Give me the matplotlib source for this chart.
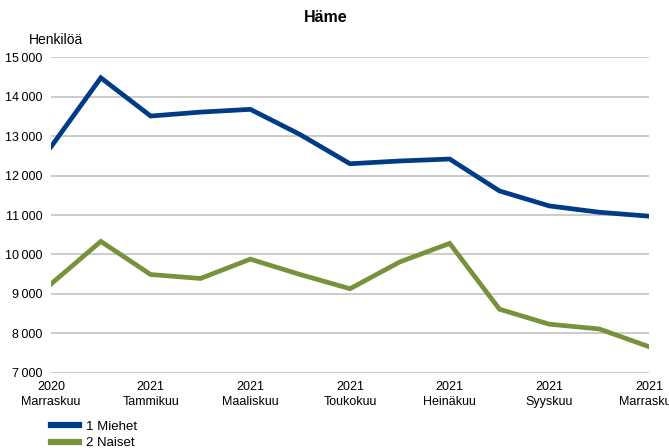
import matplotlib
matplotlib.use("Agg")
import matplotlib.pyplot as plt
from matplotlib.ticker import FuncFormatter

plt.rcParams['font.family'] = ['Liberation Sans', 'DejaVu Sans']

months = ["2020\nMarraskuu", "2020\nJoulukuu", "2021\nTammikuu", "2021\nHelmikuu",
          "2021\nMaaliskuu", "2021\nHuhtikuu", "2021\nToukokuu", "2021\nKesäkuu",
          "2021\nHeinäkuu", "2021\nElokuu", "2021\nSyyskuu", "2021\nLokakuu",
          "2021\nMarraskuu"]
miehet = [12730, 14480, 13510, 13610, 13680, 13040, 12300, 12370, 12420,
          11610, 11230, 11070, 10970]
naiset = [9250, 10330, 9490, 9390, 9880, 9490, 9130, 9810, 10280,
          8610, 8230, 8110, 7660]
series_names = ["1 Miehet", "2 Naiset"]
yticks = [7000, 8000, 9000, 10000, 11000, 12000, 13000, 14000, 15000]

fig = plt.figure(figsize=(6.69, 4.48), dpi=100)
ax = fig.add_axes([51/669, 1-372.7/448, (649-51)/669, (372.7-57.3)/448])

x = list(range(len(months)))
ax.plot(x, miehet, color="#003b87", lw=3.4, solid_joinstyle="miter", label=series_names[0], zorder=3)
ax.plot(x, naiset, color="#76933c", lw=3.4, solid_joinstyle="miter", label=series_names[1], zorder=3)

ax.set_xlim(0, len(months)-1)
ax.set_ylim(7000, 15000)
ax.set_yticks(yticks)
ax.yaxis.set_major_formatter(FuncFormatter(lambda v, p: f"{int(v):,}".replace(",", "\u2009")))
ax.set_xticks(x[::2])
ax.set_xticklabels(months[::2])
ax.grid(axis="y", color="#bfbfbf", lw=1.1)
ax.set_axisbelow(True)
for s in ax.spines.values():
    s.set_visible(False)
ax.tick_params(length=0, labelsize=9, colors="black")
ax.tick_params(axis="y", pad=6)
ax.tick_params(axis="x", pad=6)
for lbl in ax.get_xticklabels():
    lbl.set_linespacing(1.35)

fig.text(325.5/669, 1-18/448, "Häme", ha="center", va="center", fontsize=11.5, fontweight="bold")
fig.text(29/669, 1-40/448, "Henkilöä", ha="left", va="center", fontsize=10)

leg = fig.legend(loc="upper left", bbox_to_anchor=(46/669, 1-415/448), frameon=False,
                 fontsize=9.5, handlelength=2.1, handletextpad=0.5, labelspacing=0.35,
                 borderaxespad=0)
for h in leg.get_lines():
    h.set_linewidth(4.5)

fig.savefig("out.png", dpi=100)
